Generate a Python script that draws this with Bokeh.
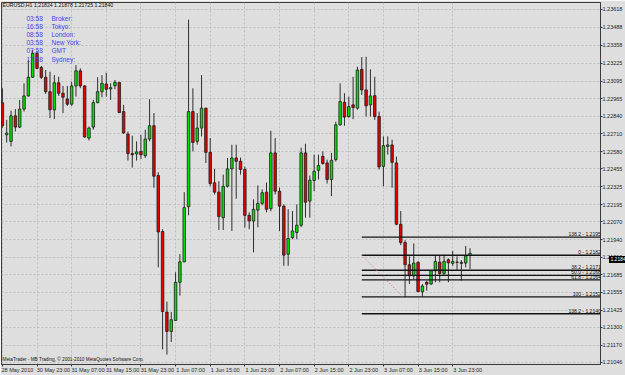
from bokeh.plotting import figure
from bokeh.models import Range1d, FixedTicker, PrintfTickFormatter, Label, ColumnDataSource, Div
from bokeh.layouts import column
from bokeh.embed import file_html
from bokeh.resources import INLINE

# ---- data: EURUSD H1 candles (bar index 0 = 28 May 2010 16:00) ----
opens = [1.22938, 1.22704, 1.22656, 1.22842, 1.22760, 1.22891, 1.22987, 1.23123, 1.23297, 1.23195,
         1.23123, 1.23018, 1.22886, 1.23083, 1.23007, 1.22965, 1.22927, 1.23060, 1.23170, 1.23060,
         1.22680, 1.22760, 1.22938, 1.23018, 1.23074, 1.23038, 1.23062, 1.23086, 1.22873, 1.22709,
         1.22567, 1.22564, 1.22583, 1.22552, 1.22673, 1.22770, 1.22407, 1.21999, 1.21412, 1.21271,
         1.21351, 1.21629, 1.21778, 1.22180, 1.22873, 1.22656, 1.22753, 1.22898, 1.22576, 1.22354,
         1.22286, 1.22100, 1.22329, 1.22456, 1.22535, 1.22511, 1.22451, 1.22117, 1.22076, 1.22155,
         1.22204, 1.22286, 1.22166, 1.22572, 1.22293, 1.22184, 1.21834, 1.21955, 1.21992, 1.22045,
         1.22572, 1.22221, 1.22371, 1.22445, 1.22547, 1.22499, 1.22378, 1.22523, 1.22777, 1.22941,
         1.22837, 1.22922, 1.22898, 1.23181, 1.23031, 1.22922, 1.22989, 1.22837, 1.22474, 1.22619,
         1.22630, 1.22499, 1.22052, 1.21919, 1.21757, 1.21677, 1.21774, 1.21561, 1.21629, 1.21617,
         1.21713, 1.21776, 1.21694, 1.21793, 1.21767, 1.21774, 1.21774, 1.21769, 1.21824]
highs = [1.23043, 1.22813, 1.22880, 1.22891, 1.22958, 1.23079, 1.23248, 1.23321, 1.23315, 1.23205,
         1.23176, 1.23163, 1.23139, 1.23127, 1.23060, 1.23060, 1.23091, 1.23212, 1.23188, 1.23067,
         1.22764, 1.22958, 1.23123, 1.23139, 1.23156, 1.23079, 1.23103, 1.23088, 1.22922, 1.22728,
         1.22697, 1.22656, 1.22704, 1.22741, 1.22963, 1.22862, 1.22431, 1.22016, 1.21488, 1.21412,
         1.21702, 1.21834, 1.22286, 1.23543, 1.23043, 1.22862, 1.23139, 1.22900, 1.22680, 1.22456,
         1.22366, 1.22414, 1.22535, 1.22632, 1.22632, 1.22538, 1.22472, 1.22139, 1.22233, 1.22335,
         1.22306, 1.22356, 1.22733, 1.22680, 1.22320, 1.22197, 1.22161, 1.22148, 1.22197, 1.22610,
         1.22639, 1.22407, 1.22559, 1.22559, 1.22583, 1.22523, 1.22572, 1.22799, 1.23079, 1.23007,
         1.22982, 1.23127, 1.23200, 1.23270, 1.23272, 1.23181, 1.23127, 1.22873, 1.22692, 1.22692,
         1.22668, 1.22545, 1.22148, 1.21936, 1.21818, 1.21912, 1.21784, 1.21617, 1.21641, 1.21718,
         1.21822, 1.21827, 1.21829, 1.21803, 1.21858, 1.21818, 1.21791, 1.21894, 1.21878]
lows = [1.22755, 1.22648, 1.22619, 1.22728, 1.22753, 1.22873, 1.22982, 1.23118, 1.23181, 1.23110,
        1.23002, 1.22825, 1.22818, 1.22987, 1.22862, 1.22915, 1.22915, 1.22982, 1.23043, 1.22683,
        1.22663, 1.22741, 1.22934, 1.22978, 1.22982, 1.22958, 1.23036, 1.22862, 1.22712, 1.22516,
        1.22465, 1.22516, 1.22528, 1.22535, 1.22656, 1.22318, 1.21738, 1.21140, 1.21102, 1.21194,
        1.21349, 1.21532, 1.21776, 1.22117, 1.22583, 1.22632, 1.22692, 1.22499, 1.22329, 1.22269,
        1.22010, 1.22010, 1.22320, 1.22003, 1.22238, 1.22414, 1.22028, 1.22016, 1.21847, 1.22030,
        1.22190, 1.22139, 1.22146, 1.22269, 1.22003, 1.21749, 1.21749, 1.21943, 1.21943, 1.22030,
        1.22100, 1.22100, 1.22293, 1.22378, 1.22487, 1.22349, 1.22257, 1.22509, 1.22770, 1.22770,
        1.22828, 1.22818, 1.22886, 1.22994, 1.22837, 1.22837, 1.22813, 1.22451, 1.22329, 1.22559,
        1.22318, 1.22045, 1.21900, 1.21520, 1.21617, 1.21653, 1.21559, 1.21525, 1.21568, 1.21610,
        1.21629, 1.21629, 1.21682, 1.21629, 1.21749, 1.21720, 1.21641, 1.21738, 1.21725]
closes = [1.22770, 1.22717, 1.22842, 1.22760, 1.22891, 1.22987, 1.23123, 1.23297, 1.23188, 1.23123,
          1.23018, 1.22886, 1.23083, 1.23007, 1.22978, 1.22927, 1.23060, 1.23170, 1.23060, 1.22688,
          1.22753, 1.22938, 1.23018, 1.23079, 1.23036, 1.23047, 1.23086, 1.22866, 1.22717, 1.22567,
          1.22559, 1.22579, 1.22559, 1.22673, 1.22770, 1.22402, 1.21996, 1.21416, 1.21271, 1.21356,
          1.21629, 1.21778, 1.22173, 1.22873, 1.22648, 1.22753, 1.22898, 1.22576, 1.22349, 1.22286,
          1.22108, 1.22329, 1.22456, 1.22535, 1.22511, 1.22451, 1.22117, 1.22076, 1.22161, 1.22204,
          1.22282, 1.22161, 1.22572, 1.22293, 1.22184, 1.21827, 1.21948, 1.22003, 1.22045, 1.22572,
          1.22213, 1.22373, 1.22438, 1.22480, 1.22494, 1.22378, 1.22518, 1.22777, 1.22946, 1.22833,
          1.22909, 1.22902, 1.23176, 1.23031, 1.22915, 1.22987, 1.22837, 1.22470, 1.22625, 1.22630,
          1.22503, 1.22052, 1.21919, 1.21757, 1.21677, 1.21769, 1.21561, 1.21602, 1.21615, 1.21713,
          1.21781, 1.21694, 1.21781, 1.21771, 1.21781, 1.21776, 1.21767, 1.21822, 1.21840]

time_tick_bars = [0, 8, 16, 24, 32, 40, 48, 56, 64, 72, 80, 88, 96, 104]
time_tick_labels = ["28 May 2010", "30 May 23:00", "31 May 07:00", "31 May 15:00", "31 May 23:00",
                    "1 Jun 07:00", "1 Jun 15:00", "1 Jun 23:00", "2 Jun 07:00", "2 Jun 15:00",
                    "2 Jun 23:00", "3 Jun 07:00", "3 Jun 15:00", "3 Jun 23:00"]
price_ticks = [1.23618, 1.23488, 1.23358, 1.23225, 1.23095, 1.22965, 1.22840, 1.22710, 1.22580,
               1.22455, 1.22325, 1.22195, 1.22070, 1.21940, 1.21810, 1.21685, 1.21555, 1.21425,
               1.21300, 1.21170, 1.21046]

fib_names = ["138.2", "0", "38.2", "50.0", "61.8", "100", "138.2"]
fib_prices = [1.21958, 1.21826, 1.21717, 1.21680, 1.21647, 1.21523, 1.21400]
fib_start_bar = 83
fib_anchor_bars = [83, 92.5]
fib_anchor_prices = [1.21826, 1.21523]

clock_times = ["03:58", "16:58", "08:58", "03:58", "07:58", "17:58"]
clock_names = ["Broker:", "Tokyo:", "London:", "New York:", "GMT", "Sydney:"]

header = "EURUSD,H1  1.21824 1.21878 1.21725 1.21840"
last_price = 1.21840
copyright_text = "MetaTrader - MB Trading, \u00a9 2001-2010 MetaQuotes Software Corp."

# ---- build ----
FONT = "Liberation Sans"
BG = "#dedede"
x_end = 138.13
BAR_PX = 4.359          # pixels per bar at this size
LABEL_FS = 5.5          # px

idx = list(range(len(opens)))
up = [c >= o for o, c in zip(opens, closes)]
src = ColumnDataSource(dict(
    x=idx, o=opens, h=highs, l=lows, c=closes,
    top=[max(o, c) for o, c in zip(opens, closes)],
    bot=[min(o, c) for o, c in zip(opens, closes)],
    fill=["#00e400" if u else "#e60000" for u in up],
))

y_lo, y_hi = 1.21030, 1.23668
p = figure(width=625, height=375, x_range=Range1d(-0.2, x_end), y_range=Range1d(y_lo, y_hi),
           output_backend="svg", toolbar_location=None, y_axis_location="right",
           min_border_left=1, min_border_top=2, min_border_right=0, min_border_bottom=0,
           background_fill_color=BG, border_fill_color=BG, outline_line_color="#3a3a3a")


def style_axis(ax, fs):
    ax.major_label_text_font = FONT
    ax.major_label_text_font_size = fs
    ax.major_label_text_color = "#1e1e1e"
    ax.axis_line_color = "#3a3a3a"
    ax.major_tick_line_color = "#3a3a3a"
    ax.minor_tick_line_color = "#3a3a3a"
    ax.major_tick_in = 0
    ax.major_tick_out = 2
    ax.minor_tick_out = 0
    ax.minor_tick_in = 0
    ax.major_label_standoff = 0


# time axis: MT4 writes each time label to the right of its tick, so the labels sit
# at shifted positions and the real ticks are drawn as minor ticks at the bars
label_pos = [round(b + 0.5 * len(t) * 0.5 * LABEL_FS / BAR_PX, 2) for b, t in zip(time_tick_bars, time_tick_labels)]
xa = p.xaxis[0]
style_axis(xa, f"{LABEL_FS}px")
xa.ticker = FixedTicker(ticks=label_pos, minor_ticks=time_tick_bars)
xa.major_label_overrides = {v: t for v, t in zip(label_pos, time_tick_labels)}
xa.major_tick_out = 0
xa.minor_tick_out = 2
p.xgrid[0].ticker = FixedTicker(ticks=time_tick_bars)

ya = p.yaxis[0]
style_axis(ya, "5.5px")
ya.ticker = FixedTicker(ticks=price_ticks)
ya.formatter = PrintfTickFormatter(format="%.5f")

for g in (p.xgrid[0], p.ygrid[0]):
    g.grid_line_color = "#bfbfbf"
    g.grid_line_dash = "2 2"
    g.grid_line_width = 1

# candles
p.segment(x0="x", y0="h", x1="x", y1="l", source=src, line_color="#2e2e2e", line_width=1)
p.vbar(x="x", width=0.58, top="top", bottom="bot", source=src, fill_color="fill",
       line_color="#1c1c1c", line_width=0.8)

# fibonacci levels
p.segment(x0=[fib_start_bar] * len(fib_prices), y0=fib_prices, x1=[x_end] * len(fib_prices), y1=fib_prices,
          line_color="#141414", line_width=1.3)
p.line(fib_anchor_bars, fib_anchor_prices, line_color="#e06a6a", line_dash="1 2", line_width=1)
for n, v in zip(fib_names, fib_prices):
    p.add_layout(Label(x=602, y=v, x_units="screen", y_units="data", text=f"{n} - {v:.5f}",
                       text_font=FONT, text_font_size="5px", text_color="#111111",
                       text_align="right", text_baseline="bottom"))

# header & texts (screen units relative to frame bottom-left)
p.add_layout(Label(x=1, y=363, x_units="screen", y_units="screen", text=header,
                   text_font=FONT, text_font_size="5.2px", text_color="#111111", text_baseline="top"))
row_top = 350
for i, (t, n) in enumerate(zip(clock_times, clock_names)):
    yy = row_top - i * 8.2
    p.add_layout(Label(x=25, y=yy, x_units="screen", y_units="screen", text=t, text_font=FONT,
                       text_font_size="6.5px", text_color="#4444ee", text_baseline="top"))
    p.add_layout(Label(x=50, y=yy, x_units="screen", y_units="screen", text=n, text_font=FONT,
                       text_font_size="6.5px", text_color="#4444ee", text_baseline="top"))
p.add_layout(Label(x=1, y=8, x_units="screen", y_units="screen", text=copyright_text,
                   text_font=FONT, text_font_size="4.7px", text_color="#111111", text_baseline="top"))

# current price box on the price scale (outside the frame, so an overlaid HTML element)
box_top = round(2 + (y_hi - last_price) / (y_hi - y_lo) * 364 - 3.5)
price_box = Div(text=f"{last_price:.5f}", width=21, height=7,
                styles={"position": "absolute", "left": "604px", "top": f"{box_top}px",
                        "background-color": "#000000", "color": "#ffffff", "font-size": "5px",
                        "font-family": FONT, "line-height": "7px", "text-align": "center",
                        "white-space": "nowrap"})

open("out.html", "w").write(file_html(column(p, price_box), INLINE))
